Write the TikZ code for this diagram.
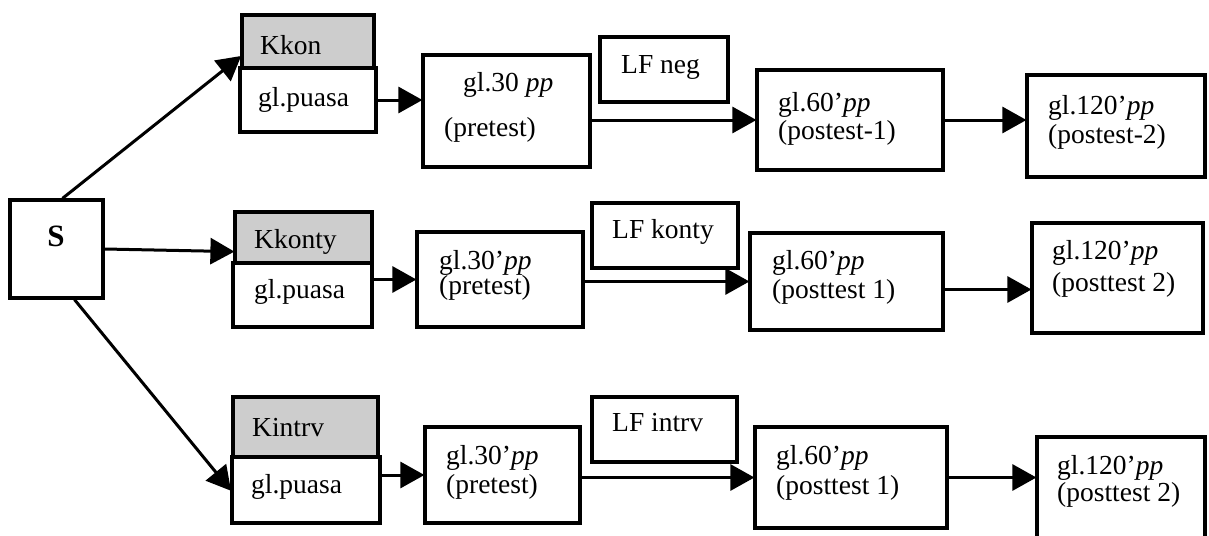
\documentclass[tikz,border=0pt]{standalone}
\usepackage{fontspec}
\setmainfont{Liberation Serif}
\usetikzlibrary{arrows.meta}
\definecolor{shade}{RGB}{205,205,205}
\tikzset{
  box/.style={draw, line width=3.2pt, inner sep=0pt, fill=white},
  shadebox/.style={box, fill=shade},
  txt/.style={inner sep=0pt, anchor=west, font=\fontsize{27.5}{31}\selectfont},
  arr/.style={line width=3pt, -{Triangle[length=24pt,width=26pt]}, shorten >=-1pt}
}
\begin{document}
\begin{tikzpicture}[x=1pt,y=-1pt]
\useasboundingbox (0,0) rectangle (1209,535);
% S
\node[box, minimum width=93pt, minimum height=98pt] (S) at (56.5,249) {};
\node[inner sep=0pt, font=\fontsize{31}{34}\selectfont\bfseries] (St) at (56,236) {S};
% row 1
\node[shadebox, minimum width=132pt, minimum height=53pt] (k1) at (308,41.5) {};
\node[box, minimum width=136pt, minimum height=64pt] (g1) at (308,100) {};
\node[box, minimum width=167pt, minimum height=112pt] (p1) at (506.5,111) {};
\node[box, minimum width=128pt, minimum height=65pt] (l1) at (664,69.5) {};
\node[box, minimum width=186pt, minimum height=100pt] (q1) at (850,120) {};
\node[box, minimum width=178pt, minimum height=102pt] (r1) at (1116,126) {};
\node[txt] (k1t) at (260,45) {Kkon};
\node[txt] (g1t) at (258,100) {gl.puasa};
\node[txt] (p1a) at (463,85) {gl.30 \textit{pp}};
\node[txt] (p1b) at (444,130) {(pretest)};
\node[txt] (l1t) at (621,67) {LF neg};
\node[txt] (q1a) at (778,105) {gl.60'\textit{pp}};
\node[txt] (q1b) at (778,133) {(postest-1)};
\node[txt] (r1a) at (1048,108) {gl.120'\textit{pp}};
\node[txt] (r1b) at (1048,137) {(postest-2)};
% row 2
\node[shadebox, minimum width=137pt, minimum height=51pt] (k2) at (303.5,237.5) {};
\node[box, minimum width=139pt, minimum height=64pt] (g2) at (302.5,295) {};
\node[box, minimum width=166pt, minimum height=95pt] (p2) at (500,279.5) {};
\node[box, minimum width=146pt, minimum height=65pt] (l2) at (665,235.5) {};
\node[box, minimum width=193pt, minimum height=97pt] (q2) at (846.5,281.5) {};
\node[box, minimum width=171pt, minimum height=110pt] (r2) at (1117.5,278) {};
\node[txt] (k2t) at (254,242) {Kkonty};
\node[txt] (g2t) at (254,292) {gl.puasa};
\node[txt] (p2a) at (439,263) {gl.30'\textit{pp}};
\node[txt] (p2b) at (439,288) {(pretest)};
\node[txt] (l2t) at (612,232) {LF konty};
\node[txt] (q2a) at (772,263) {gl.60'\textit{pp}};
\node[txt] (q2b) at (772,292) {(posttest 1)};
\node[txt] (r2a) at (1052,253) {gl.120'\textit{pp}};
\node[txt] (r2b) at (1052,285) {(posttest 2)};
% row 3
\node[shadebox, minimum width=145pt, minimum height=60pt] (k3) at (305.5,427) {};
\node[box, minimum width=148pt, minimum height=66pt] (g3) at (306,490) {};
\node[box, minimum width=155pt, minimum height=96pt] (p3) at (502.5,475) {};
\node[box, minimum width=145pt, minimum height=65pt] (l3) at (664.5,429.5) {};
\node[box, minimum width=192pt, minimum height=101pt] (q3) at (851,477.5) {};
\node[box, minimum width=168pt, minimum height=103pt] (r3) at (1121,488.5) {};
\node[txt] (k3t) at (252,428) {Kintrv};
\node[txt] (g3t) at (251,487) {gl.puasa};
\node[txt] (p3a) at (446,458) {gl.30'\textit{pp}};
\node[txt] (p3b) at (446,487) {(pretest)};
\node[txt] (l3t) at (612,423) {LF intrv};
\node[txt] (q3a) at (776,458) {gl.60'\textit{pp}};
\node[txt] (q3b) at (776,488) {(posttest 1)};
\node[txt] (r3a) at (1057,468) {gl.120'\textit{pp}};
\node[txt] (r3b) at (1057,495) {(posttest 2)};
% connectors from S
\draw[arr] ([xshift=6pt]S.north) -- ([yshift=13pt]k1.south west);
\draw[arr] (S.east) -- ([yshift=13pt]k2.south west);
\draw[arr] ([xshift=18pt]S.south) -- (g3.west);
% row 1 connectors
\draw[arr] (g1.east) -- (p1.west |- g1.east);
\draw[arr] (p1.east |- q1.west) -- (q1.west);
\draw[arr] (q1.east) -- (r1.west |- q1.east);
% row 2 connectors
\coordinate (q2o) at ([yshift=-8pt]q2.east);
\draw[arr] (g2.east |- p2.west) -- (p2.west);
\draw[arr] (p2.east |- q2.west) -- (q2.west);
\draw[arr] (q2o) -- (r2.west |- q2o);
% row 3 connectors
\draw[arr] (g3.east |- p3.west) -- (p3.west);
\draw[arr] (p3.east |- q3.west) -- (q3.west);
\draw[arr] (q3.east) -- (r3.west |- q3.east);
\end{tikzpicture}
\end{document}
